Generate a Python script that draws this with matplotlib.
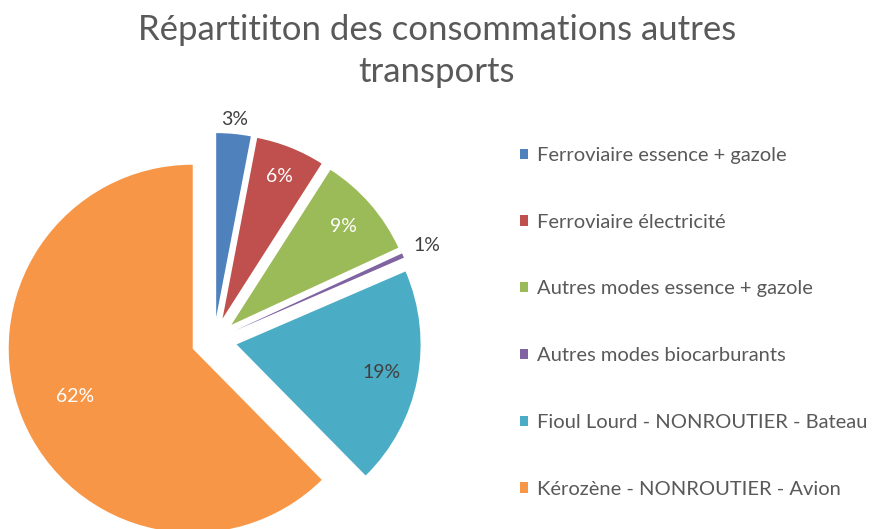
import matplotlib
matplotlib.use("Agg")
import matplotlib.pyplot as plt
import numpy as np
from matplotlib.patches import Patch

plt.rcParams['font.family'] = ['Lato', 'DejaVu Sans']

categories = ["Ferroviaire essence + gazole", "Ferroviaire électricité",
              "Autres modes essence + gazole", "Autres modes biocarburants",
              "Fioul Lourd - NONROUTIER - Bateau", "Kérozène - NONROUTIER - Avion"]
values = [3, 6, 9, 0.4, 19, 62]
pct_labels = ["3%", "6%", "9%", "1%", "19%", "62%"]
colors = ["#4F81BD", "#C0504D", "#9BBB59", "#8064A2", "#4BACC6", "#F79646"]
label_colors = ["#404040", "white", "white", "#404040", "#404040", "white"]
label_dist = [1.08, 0.83, 0.81, 1.14, 0.80, 0.69]

W, H = 887, 529
fig = plt.figure(figsize=(W / 100, H / 100), dpi=100)
ax = fig.add_axes([0, 0, 1, 1])
R = 184.0
cx, cy = 214.0, 340.0
wedges, _ = ax.pie(values, colors=colors, startangle=90, counterclock=False,
                   explode=[0.125] * len(values), radius=1, frame=True,
                   wedgeprops=dict(linewidth=0))
ax.set_xlim(-cx / R, (W - cx) / R)
ax.set_ylim(-(H - cy) / R, cy / R)
ax.set_aspect('auto')
ax.axis('off')

for w, lab, col, d in zip(wedges, pct_labels, label_colors, label_dist):
    th = np.deg2rad((w.theta1 + w.theta2) / 2)
    x0, y0 = w.center
    ax.text(x0 + d * np.cos(th), y0 + d * np.sin(th), lab, color=col,
            fontsize=14, ha='center', va='center')

fig.text(437 / W, 1 - 51 / H, "Répartititon des consommations autres\ntransports",
         ha='center', va='center', fontsize=25, color='#595959', linespacing=1.38)

handles = [Patch(facecolor=c, edgecolor='none') for c in colors]
fig.legend(handles, categories, loc='upper left', bbox_to_anchor=(520 / W, 1 - 147 / H),
           frameon=False, fontsize=14.5, labelcolor='#595959', handlelength=0.4,
           handleheight=0.4, handletextpad=0.45, labelspacing=2.47, borderpad=0,
           borderaxespad=0)

fig.savefig("out.png", dpi=100)
